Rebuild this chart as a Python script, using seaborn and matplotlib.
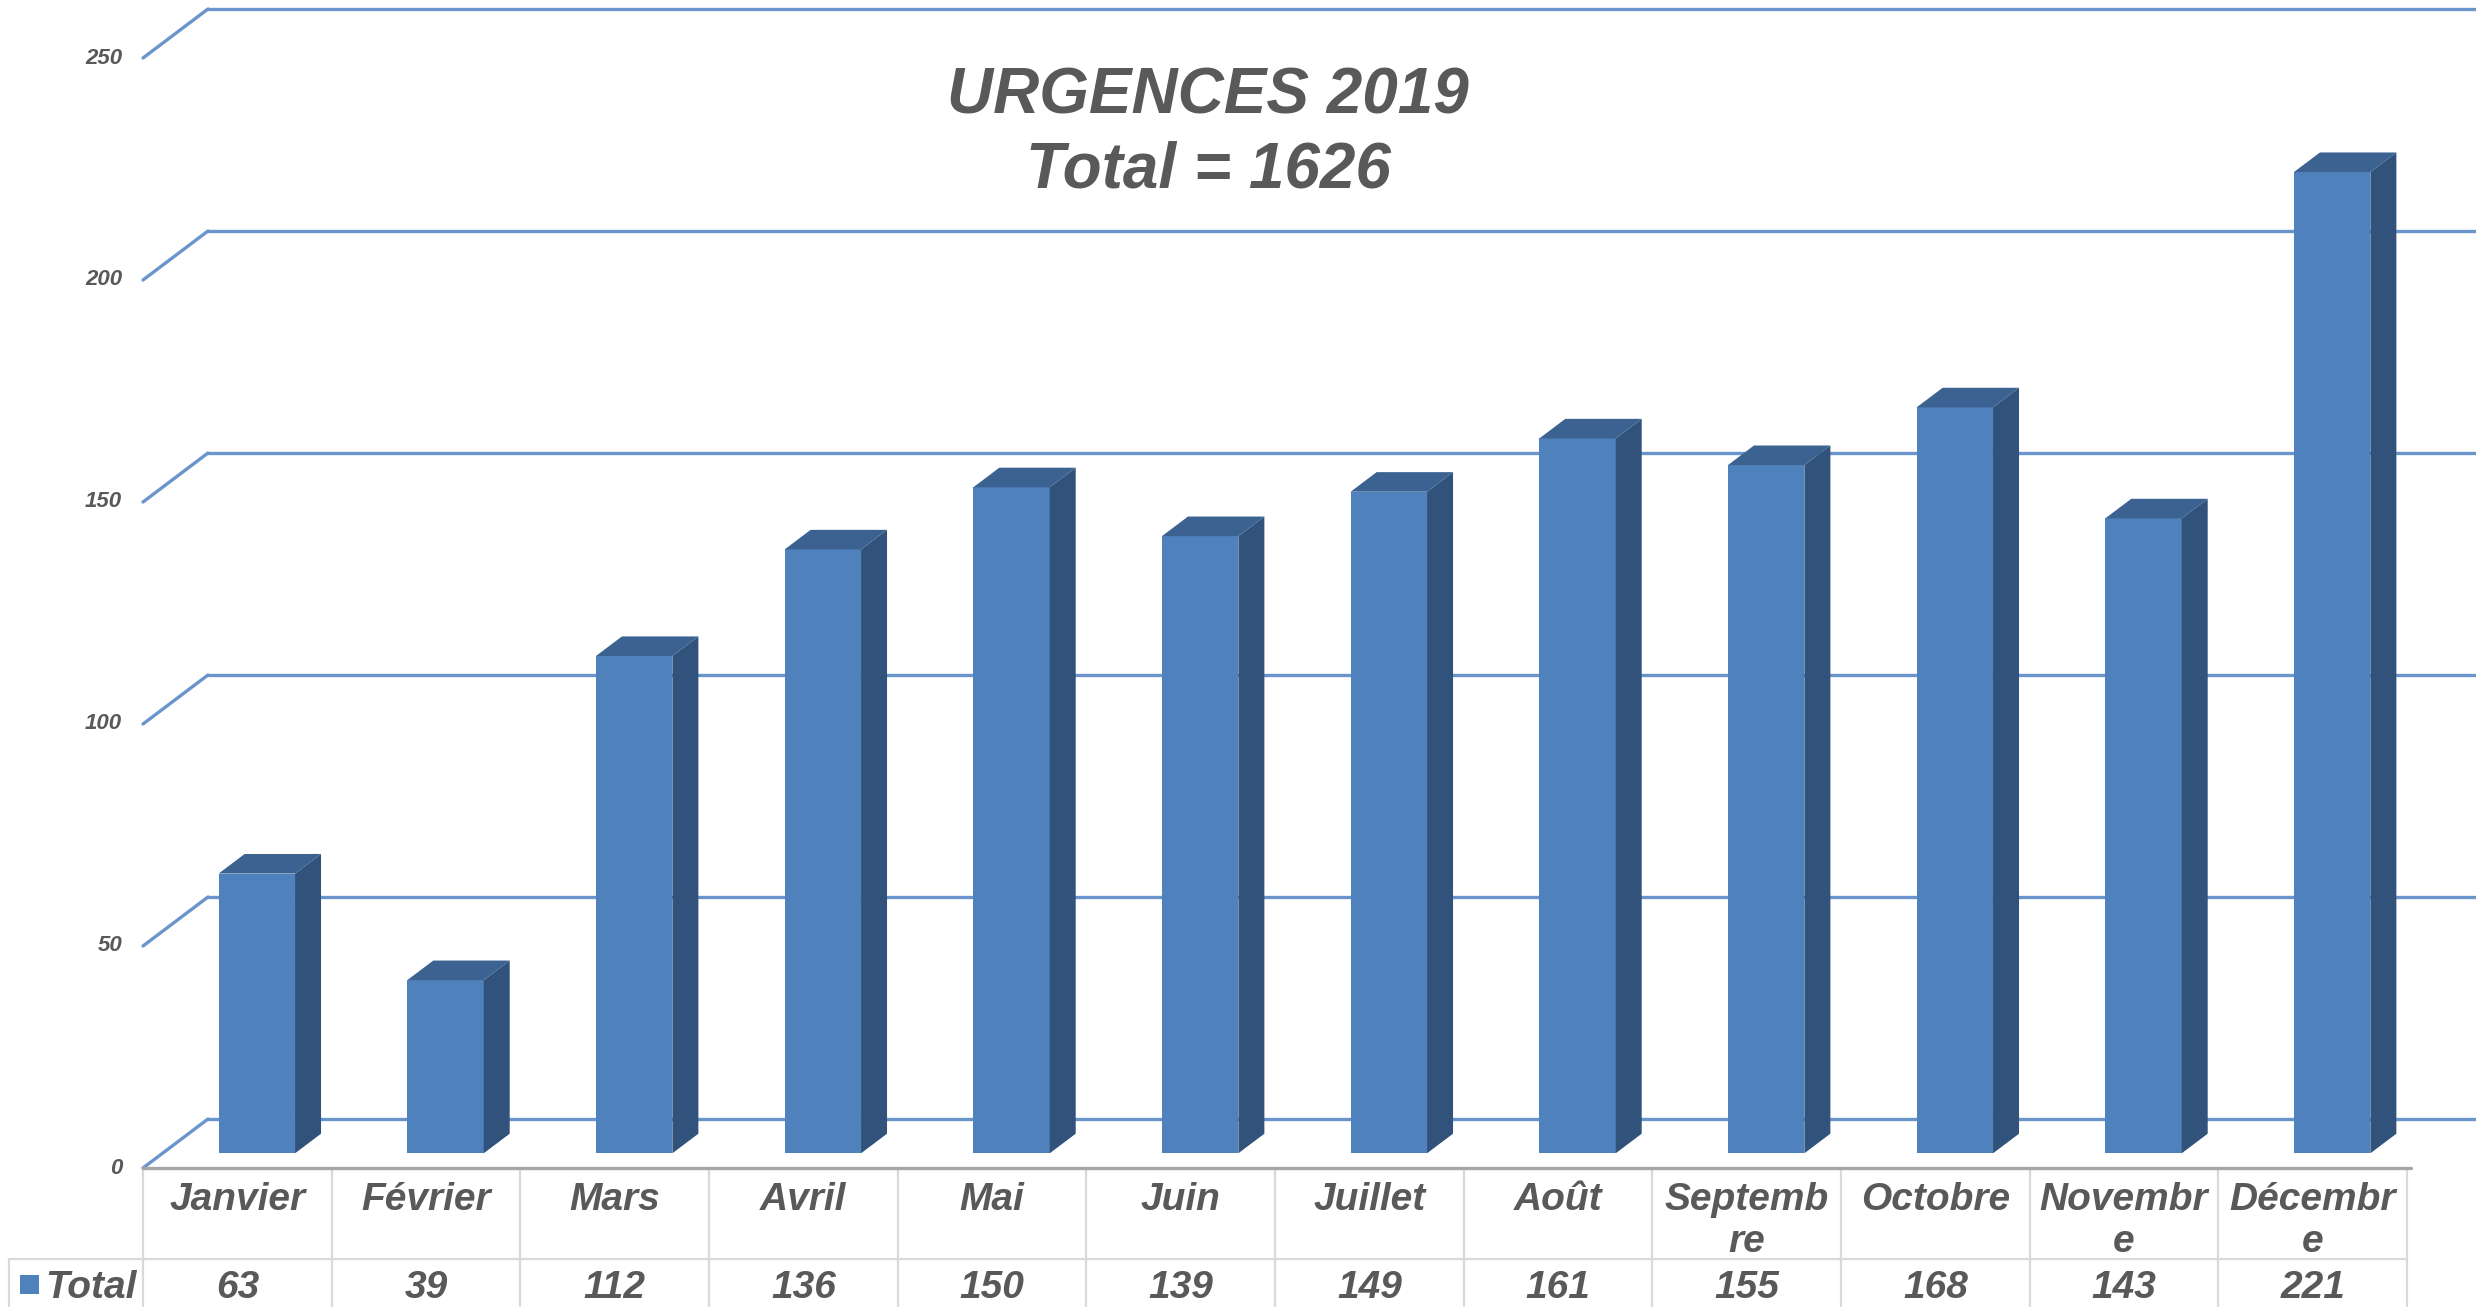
import numpy as np
import pandas as pd
import matplotlib
matplotlib.use("Agg")
import matplotlib.pyplot as plt
import matplotlib.transforms as mtransforms
from matplotlib.patches import Polygon, Rectangle
import seaborn as sns

# ---------------- data ----------------
months = ["Janvier", "Février", "Mars", "Avril", "Mai", "Juin", "Juillet",
          "Août", "Septembre", "Octobre", "Novembre", "Décembre"]
month_labels = ["Janvier", "Février", "Mars", "Avril", "Mai", "Juin", "Juillet",
                "Août", "Septemb\nre", "Octobre", "Novembr\ne", "Décembr\ne"]
values = [63, 39, 112, 136, 150, 139, 149, 161, 155, 168, 143, 221]
yticks = [0, 50, 100, 150, 200, 250]
series_name = "Total"
title_lines = ["URGENCES 2019", "Total = 1626"]

# ---------------- style ----------------
W, H = 2476, 1307
FRONT = "#4F81BD"
SIDE = "#31527A"
TOP = "#3B6290"
GRID = "#6A95CC"
TXT = "#595959"
TABLE_LINE = "#D9D9D9"
TABLE_TOP = "#A6A6A6"

sns.set_theme(style="white")
plt.rcParams["font.family"] = ["Liberation Sans", "DejaVu Sans"]

fig = plt.figure(figsize=(W / 100, H / 100), dpi=100)
fig.patch.set_facecolor("white")

# front plane of the 3D box (pixels)
L, R, Y0, Y250 = 143, 2407, 1168, 58
ax = fig.add_axes([L / W, 1 - Y0 / H, (R - L) / W, (Y0 - Y250) / H])

df = pd.DataFrame({"month": months, "value": values})
sns.barplot(data=df, x="month", y="value", color=FRONT, saturation=1,
            width=0.405, ax=ax, zorder=3, linewidth=0)
ax.set_xlim(-0.5, len(months) - 0.5)
ax.set_ylim(0, 250)
ax.set_axis_off()

# depth vector (65 px right, 49 px up) in data units
pxx = (R - L) / len(months)
pxy = (Y0 - Y250) / 250
DX, DY = 65 / pxx, 49 / pxy
f0, fd = 0.3, 0.4  # bars sit from 30% to 70% of depth

# back wall gridlines and left diagonals
xl, xr = -0.5, len(months) - 0.5
for v in yticks:
    ax.plot([xl, xl + DX], [v, v + DY], color=GRID, lw=2.4, clip_on=False, zorder=1)
    ax.plot([xl + DX, xr + DX + 0.05], [v + DY, v + DY], color=GRID, lw=2.4,
            clip_on=False, zorder=1)
    ax.text(xl - 0.11, v, str(v), ha="right", va="center", fontsize=16,
            fontweight="bold", fontstyle="italic", color=TXT)

# 3D bars: shift seaborn's bars to their depth and add side/top faces
for p in list(ax.patches):
    x0 = p.get_x() + f0 * DX
    w = p.get_width()
    h = p.get_height()
    y0 = f0 * DY
    p.set_x(x0)
    p.set_y(y0)
    p.set_clip_on(False)
    x1, y1 = x0 + w, y0 + h
    side = Polygon([(x1, y0), (x1 + fd * DX, y0 + fd * DY),
                    (x1 + fd * DX, y1 + fd * DY), (x1, y1)],
                   closed=True, facecolor=SIDE, edgecolor="none",
                   zorder=3, clip_on=False)
    top = Polygon([(x0, y1), (x0 + fd * DX, y1 + fd * DY),
                   (x1 + fd * DX, y1 + fd * DY), (x1, y1)],
                  closed=True, facecolor=TOP, edgecolor="none",
                  zorder=3, clip_on=False)
    ax.add_patch(side)
    ax.add_patch(top)

# ---------------- title ----------------
fig.text(1208 / W, 1 - 114 / H, title_lines[0], ha="center", va="baseline",
         fontsize=46, fontweight="bold", fontstyle="italic", color=TXT)
fig.text(1208 / W, 1 - 188 / H, title_lines[1], ha="center", va="baseline",
         fontsize=46, fontweight="bold", fontstyle="italic", color=TXT)

# ---------------- data table ----------------
bt = mtransforms.blended_transform_factory(ax.transData, fig.transFigure)
row_sep = 1 - 1259 / H
table_top = 1 - Y0 / H
for k in range(len(months) + 1):
    ax.plot([k - 0.5, k - 0.5], [0, table_top], transform=bt, color=TABLE_LINE,
            lw=1.6, clip_on=False, zorder=0)
ax.plot([xl, xr], [row_sep, row_sep], transform=bt, color=TABLE_LINE, lw=1.6,
        clip_on=False, zorder=0)
fig.add_artist(plt.Line2D([9 / W, L / W], [row_sep, row_sep], color=TABLE_LINE, lw=1.6))
fig.add_artist(plt.Line2D([9 / W, 9 / W], [0, row_sep], color=TABLE_LINE, lw=1.6))
ax.plot([xl, xr + 0.02], [0, 0], color=TABLE_TOP, lw=2.4, clip_on=False, zorder=2)

for i, (lab, v) in enumerate(zip(month_labels, values)):
    ax.text(i, 1 - 1182 / H, lab, transform=bt, ha="center", va="top",
            fontsize=28, fontweight="bold", fontstyle="italic", color=TXT,
            linespacing=1.2)
    ax.text(i, 1 - 1298 / H, str(v), transform=bt, ha="center", va="baseline",
            fontsize=28, fontweight="bold", fontstyle="italic", color=TXT)

fig.add_artist(Rectangle((20 / W, 1 - 1294 / H), 19 / W, 19 / H,
                         transform=fig.transFigure, facecolor=FRONT, edgecolor="none"))
fig.text(137 / W, 1 - 1298 / H, series_name, ha="right", va="baseline",
         fontsize=28, fontweight="bold", fontstyle="italic", color=TXT)

fig.savefig("out.png", dpi=100, facecolor="white")
